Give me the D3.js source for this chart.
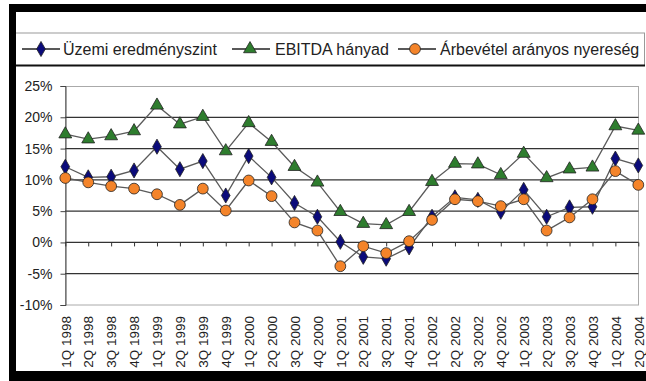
<!DOCTYPE html>
<html><head><meta charset="utf-8">
<script src="https://cdn.jsdelivr.net/npm/d3@7"></script>
<style>
html,body{margin:0;padding:0;background:#fff;}
svg{display:block;font-family:"Liberation Sans",Arial,sans-serif;}
</style></head>
<body>
<svg id="c" width="646" height="381"></svg>
<script>
const categories = ["1Q 1998","2Q 1998","3Q 1998","4Q 1998","1Q 1999","2Q 1999","3Q 1999","4Q 1999","1Q 2000","2Q 2000","3Q 2000","4Q 2000","1Q 2001","2Q 2001","3Q 2001","4Q 2001","1Q 2002","2Q 2002","3Q 2002","4Q 2002","1Q 2003","2Q 2003","3Q 2003","4Q 2003","1Q 2004","2Q 2004"];
const uzemi = [12.1,10.4,10.5,11.5,15.3,11.7,13.0,7.5,13.8,10.4,6.3,4.1,0.1,-2.3,-2.6,-0.8,4.1,7.2,6.8,4.9,8.4,4.1,5.6,5.7,13.4,12.3];
const ebitda = [17.3,16.5,17.0,17.8,21.9,18.9,20.1,14.6,19.1,16.1,12.1,9.6,4.9,3.0,2.8,4.9,9.7,12.6,12.5,10.8,14.2,10.3,11.7,12.0,18.6,17.9];
const arbevetel = [10.3,9.6,9.0,8.6,7.7,6.0,8.6,5.1,9.9,7.4,3.2,1.9,-3.8,-0.6,-1.7,0.2,3.6,6.9,6.6,5.8,6.9,1.9,4.0,6.9,11.4,9.2];
const yTicks = [-10,-5,0,5,10,15,20,25];
const seriesNames = ["Üzemi eredményszint","EBITDA hányad","Árbevétel arányos nyereség"];

const svg = d3.select("#c");
// frame
svg.append("rect").attr("x",9).attr("y",4).attr("width",637).attr("height",8).attr("fill","#000");
svg.append("rect").attr("x",9).attr("y",4).attr("width",7).attr("height",377).attr("fill","#000");
svg.append("rect").attr("x",9).attr("y",371).attr("width",637).attr("height",10).attr("fill","#000");

// legend box
svg.append("line").attr("x1",16).attr("x2",645).attr("y1",33).attr("y2",33).attr("stroke","#999").attr("stroke-width",1);
svg.append("line").attr("x1",644.5).attr("x2",644.5).attr("y1",33).attr("y2",66).attr("stroke","#999").attr("stroke-width",1);
svg.append("line").attr("x1",16).attr("x2",645).attr("y1",65.5).attr("y2",65.5).attr("stroke","#111").attr("stroke-width",2);

const x = d3.scalePoint().domain(categories).range([65.3,638.3]);
const y = d3.scaleLinear().domain([-10,25]).range([305,86]);

// plot border
svg.append("rect").attr("x",65.5).attr("y",86.5).attr("width",573).attr("height",218.5)
  .attr("fill","none").attr("stroke","#aaa").attr("stroke-width",1);

// gridlines
svg.append("g").selectAll("line").data(yTicks.filter(d=>d>-10 && d<25)).join("line")
  .attr("x1",65).attr("x2",638.5).attr("y1",d=>y(d)).attr("y2",d=>y(d))
  .attr("stroke","#333").attr("stroke-width",1.3);

// y axis
const ya = svg.append("g").attr("transform","translate(65.5,0)")
  .call(d3.axisLeft(y).tickValues(yTicks).tickFormat(d=>d+"%").tickSize(5).tickPadding(8));
ya.select(".domain").attr("stroke","#444");
ya.selectAll(".tick line").attr("stroke","#444");
ya.selectAll("text").attr("font-size",14).attr("fill","#222").attr("font-family","Liberation Sans, Arial, sans-serif");

// x axis at 0%
const xa0 = svg.append("g").attr("transform",`translate(0,${y(0)})`)
  .call(d3.axisBottom(x).tickSize(4).tickFormat(""));
xa0.select(".domain").remove();
xa0.selectAll(".tick line").attr("stroke","#333");

// x labels at bottom
const xa = svg.append("g").attr("transform","translate(0,305)")
  .call(d3.axisBottom(x).tickSize(0));
xa.select(".domain").remove();
xa.selectAll("text").attr("transform","rotate(-90)").attr("x",-11).attr("y",0).attr("dy","0.35em")
  .style("text-anchor","end").attr("font-size",13.5).attr("fill","#222").attr("font-family","Liberation Sans, Arial, sans-serif");

const line = d3.line().x((d,i)=>x(categories[i])).y(d=>y(d));
const lineColor = "#5a5a5a";
[ebitda, uzemi, arbevetel].forEach(s=>{
  svg.append("path").datum(s).attr("d",line).attr("fill","none").attr("stroke",lineColor).attr("stroke-width",1.3);
});

const diamond = d3.symbol().type(d3.symbolDiamond).size(66);
const tri = d3.symbol().type(d3.symbolTriangle).size(72);
const circ = d3.symbol().type(d3.symbolCircle).size(92);
const navy = "#0b0b7a", green = "#2e7d2e", orange = "#f4842a";

function markers(data, sym, fill){
  svg.append("g").selectAll("path").data(data).join("path")
    .attr("transform",(d,i)=>`translate(${x(categories[i])},${y(d)})`)
    .attr("d",sym).attr("fill",fill).attr("stroke","#222").attr("stroke-width",0.8);
}
markers(ebitda, tri, green);
markers(uzemi, diamond, navy);
markers(arbevetel, circ, orange);

// legend items
const leg = [
  {x1:22,x2:60,mx:41,tx:63,sym:diamond,fill:navy,name:seriesNames[0]},
  {x1:232,x2:270,mx:250,tx:275,sym:tri,fill:green,name:seriesNames[1]},
  {x1:398,x2:436,mx:415,tx:440,sym:circ,fill:orange,name:seriesNames[2]}
];
const ly = 49;
leg.forEach(l=>{
  svg.append("line").attr("x1",l.x1).attr("x2",l.x2).attr("y1",ly).attr("y2",ly).attr("stroke","#222").attr("stroke-width",1.3);
  svg.append("path").attr("transform",`translate(${l.mx},${ly})`).attr("d",l.sym).attr("fill",l.fill).attr("stroke","#222").attr("stroke-width",0.8);
  svg.append("text").attr("x",l.tx).attr("y",ly).attr("dy","0.36em").attr("font-size",16).attr("fill","#222").text(l.name);
});
</script>
</body></html>
